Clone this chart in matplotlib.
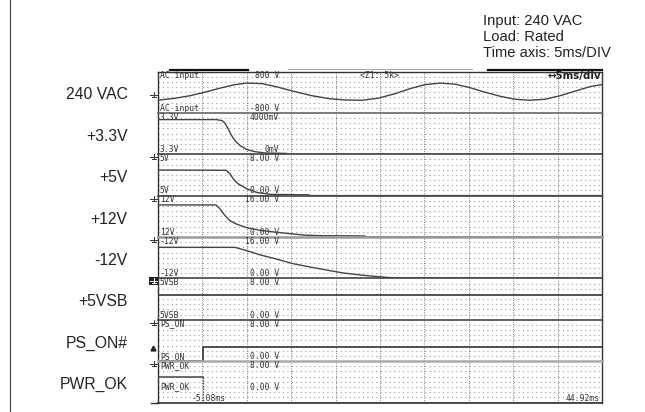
import matplotlib
matplotlib.use("Agg")
import matplotlib.pyplot as plt
from matplotlib.lines import Line2D
from matplotlib.patches import Rectangle
from matplotlib.transforms import blended_transform_factory

plt.rcParams['font.family'] = ['Liberation Sans', 'DejaVu Sans']

W, H = 645, 412

# 通道设置
channel_names = ['AC input', '3.3V', '5V', '12V', '-12V', '5VSB', 'PS_ON', 'PWR_OK']
side_labels = ['240 VAC', '+3.3V', '+5V', '+12V', '-12V', '+5VSB', 'PS_ON#', 'PWR_OK']
scale_top = ['800 V', '4000mV', '8.00 V', '16.00 V', '16.00 V', '8.00 V', '8.00 V', '8.00 V']
scale_bottom = ['-800 V', '0mV', '0.00 V', '0.00 V', '0.00 V', '0.00 V', '0.00 V', '0.00 V']
y_min = [-800, 0, 0, 0, 0, 0, 0, 0]
y_max = [800, 4000, 8, 16, 16, 8, 8, 8]

t_start, t_end = -5.08, 44.92  # ms, 5ms/div

# 交流输入 (V)
ac_t = [-5.08, -3.17, -1.48, 0.21, 1.90, 3.59, 4.94, 6.63, 8.43, 10.35, 12.26, 14.29,
        15.98, 17.89, 19.69, 21.61, 23.30, 24.99, 26.67, 28.36, 30.05, 31.74, 33.43,
        35.12, 36.81, 38.50, 40.19, 41.88, 43.57, 44.92]
ac_v = [-312, -234, -137, 0, 156, 293, 351, 332, 195, 20, -137, -254,
        -300, -312, -234, -59, 137, 293, 351, 312, 176, 0, -156,
        -273, -312, -273, -137, 39, 215, 293]

# +3.3V (mV)
v33_t = [-5.08, 1.50, 2.13, 2.46, 2.80, 3.14, 3.59, 4.15, 4.94, 5.84, 6.97, 9.40, 9.60, 44.92]
v33_v = [3350, 3350, 3250, 3000, 2500, 1900, 1300, 850, 450, 250, 120, 80, 0, 0]

# +5V
v5_t = [-5.08, 2.58, 2.80, 3.03, 3.37, 3.93, 4.94, 6.07, 7.53, 11.9, 12.1, 44.92]
v5_v = [4.95, 4.90, 4.60, 4.20, 3.30, 2.30, 1.30, 0.60, 0.25, 0.15, 0.0, 0.0]

# +12V
v12_t = [-5.08, 1.45, 1.90, 2.46, 3.03, 3.82, 4.94, 6.41, 8.32, 9.78, 11.47, 13.5, 18.2, 18.4, 44.92]
v12_v = [12.4, 12.4, 10.9, 8.3, 6.3, 4.9, 3.6, 2.6, 1.8, 1.3, 0.7, 0.5, 0.4, 0.0, 0.0]

# -12V
vn12_t = [-5.08, 3.59, 4.94, 6.41, 8.32, 10.12, 12.03, 13.94, 15.75, 18.00, 20.25, 21.61, 41.3, 41.5, 44.92]
vn12_v = [12.0, 12.0, 10.7, 9.1, 7.4, 5.7, 4.4, 3.2, 2.1, 1.2, 0.5, 0.2, 0.1, 0.0, 0.0]

# +5VSB
vsb_t = [-5.08, 44.92]
vsb_v = [4.85, 4.85]

# PS_ON#
pson_t = [-5.08, 0.0, 0.0, 44.92]
pson_v = [0.0, 0.0, 2.7, 2.7]

# PWR_OK
pwrok_t = [-5.08, 0.0, 0.0, 44.92]
pwrok_v = [4.85, 4.85, 0.0, 0.0]

traces = [(ac_t, ac_v), (v33_t, v33_v), (v5_t, v5_v), (v12_t, v12_v),
          (vn12_t, vn12_v), (vsb_t, vsb_v), (pson_t, pson_v)]

# 分隔线颜色
sep_colors = ['#333333', '#666666', '#444444', '#444444', '#999999', '#444444', '#444444', '#aaaaaa']
sep_widths = [1.0, 1.2, 1.2, 1.2, 1.8, 1.2, 1.2, 1.8]

mono = 'DejaVu Sans Mono'
small = 5.8


def fy(py):
    return 1 - py / H


fig = plt.figure(figsize=(W / 100, H / 100), dpi=100)
axes = fig.subplots(8, 1, sharex=True, gridspec_kw=dict(hspace=0))
fig.subplots_adjust(left=158 / W, right=602 / W, top=fy(71.5), bottom=fy(402.5))

for i, ax in enumerate(axes):
    ax.set_xlim(t_start, t_end)
    ax.set_ylim(y_min[i], y_max[i])
    ax.set_xticks([])
    ax.set_yticks([])
    for side in ['left', 'right']:
        ax.spines[side].set_color('#333333')
        ax.spines[side].set_linewidth(1.0)
    ax.spines['top'].set_color(sep_colors[i])
    ax.spines['top'].set_linewidth(sep_widths[i])
    if i < 7:
        ax.spines['bottom'].set_visible(False)
    else:
        ax.spines['bottom'].set_color('#333333')
        ax.spines['bottom'].set_linewidth(1.2)

    # 网格点
    span = y_max[i] - y_min[i]
    for k in range(1, 8):
        ax.axhline(y_min[i] + k * span / 8, color='#9a9a9a', lw=0.8,
                   ls=(0, (1, 3)), zorder=0)
    for k in range(1, 10):
        ax.axvline(t_start + 5 * k, color='#777777', lw=0.7,
                   ls=(0, (1, 1.5)), zorder=0.5)

    # 通道标签
    yb = 4.7 / 41.4 if i < 7 else 15.5 / 41.4
    ax.text(0.0045, 1 - 4.3 / 41.4, channel_names[i], transform=ax.transAxes,
            ha='left', va='center', fontsize=small, family=mono, color='#333333')
    ax.text(0.0045, yb, channel_names[i], transform=ax.transAxes,
            ha='left', va='center', fontsize=small, family=mono, color='#333333')
    ax.text((279 - 158) / 444, 1 - 4.3 / 41.4, scale_top[i], transform=ax.transAxes,
            ha='right', va='center', fontsize=small, family=mono, color='#333333')
    ax.text((279 - 158) / 444, yb, scale_bottom[i], transform=ax.transAxes,
            ha='right', va='center', fontsize=small, family=mono, color='#333333')

    # 左侧信号名称
    ax.text((127.7 - 158) / 444, 0.324, side_labels[i], transform=ax.transAxes,
            ha='right', va='baseline', fontsize=11.3, color='#222222')

# 波形
for i, (t, v) in enumerate(traces):
    axes[i].plot(t, v, color='#444444', lw=1.0, zorder=3)
axes[5].lines[-1].set_linewidth(1.3)
axes[6].lines[-1].set_linewidth(1.3)

ax_ok = axes[7]
ax_ok.plot(pwrok_t[:2], pwrok_v[:2], color='#444444', lw=1.1, zorder=3)
ax_ok.plot(pwrok_t[1:3], pwrok_v[1:3], color='#444444', lw=1.0, ls=(0, (1, 1)), zorder=3)
ax_ok.plot(pwrok_t[2:], pwrok_v[2:], color='#444444', lw=1.1, zorder=3)

# 顶部标注
axes[0].text(0.455, 0.907, '<Z1: 5k>', transform=axes[0].transAxes, ha='left',
             va='center', fontsize=small, family=mono, color='#333333')
axes[0].text(0.998, 0.885, '↔5ms/div', transform=axes[0].transAxes, ha='right',
             va='center', fontsize=7.3, family='DejaVu Sans', fontweight='bold',
             color='#222222')

# 时间轴端点
ax_ok.text((192 - 158) / 444, 0.106, '-5.08ms', transform=ax_ok.transAxes,
           ha='left', va='center', fontsize=small, family=mono, color='#333333')
ax_ok.text(0.995, 0.106, '44.92ms', transform=ax_ok.transAxes, ha='right',
           va='center', fontsize=small, family=mono, color='#333333')

# 触发电平标记
trig = blended_transform_factory(axes[6].transAxes, axes[6].transData)
axes[6].plot([-0.011], [2.5], marker='^', ms=3.5, color='#222222',
             transform=trig, clip_on=False)

# 接地标记
fig.canvas.draw()
for i in range(7):
    y0 = axes[i].transData.transform((t_start, 0))[1] - 3
    cx = 153.5
    col = '#333333'
    if i == 4:
        fig.add_artist(Rectangle(((cx - 4.5) / W, (y0 - 4) / H), 9 / W, 8 / H,
                                 facecolor='#222222', edgecolor='none'))
        col = 'white'
    fig.add_artist(Line2D([cx / W, cx / W], [(y0 - 2) / H, (y0 + 3) / H], color=col, lw=0.7))
    fig.add_artist(Line2D([(cx - 3.5) / W, (cx + 3.5) / W], [y0 / H, y0 / H], color=col, lw=0.7))
    fig.add_artist(Line2D([(cx - 2) / W, (cx + 2) / W], [(y0 - 2) / H, (y0 - 2) / H], color=col, lw=0.7))

# 屏幕顶部的缩放位置条
fig.add_artist(Line2D([170 / W, 248 / W], [fy(69.8)] * 2, color='#111111', lw=1.6))
fig.add_artist(Line2D([288 / W, 472 / W], [fy(69.3)] * 2, color='#999999', lw=0.6))
fig.add_artist(Line2D([488 / W, 602 / W], [fy(69.8)] * 2, color='#111111', lw=1.6))
fig.add_artist(Line2D([151 / W, 158 / W], [fy(402.5)] * 2, color='#333333', lw=1.0))

# 左边框
fig.add_artist(Line2D([9.5 / W, 9.5 / W], [0, 1], color='#444444', lw=0.8))

# 右上角测试条件
info = ['Input: 240 VAC', 'Load: Rated', 'Time axis: 5ms/DIV']
for k, line in enumerate(info):
    fig.text(483 / W, fy(25.3 + 16 * k), line, ha='left', va='baseline',
             fontsize=10.6, color='#222222')

fig.savefig('out.png', dpi=100)
